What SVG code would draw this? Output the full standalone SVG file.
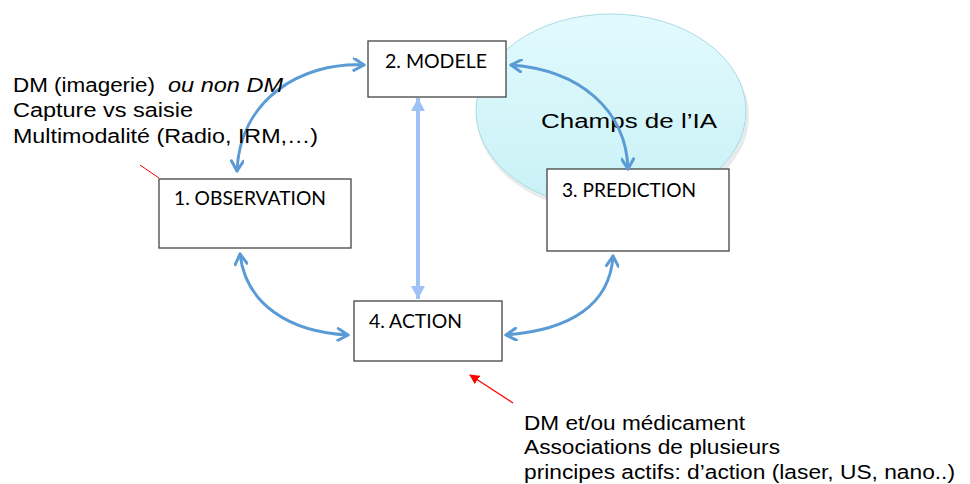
<svg xmlns="http://www.w3.org/2000/svg" width="970" height="484" viewBox="0 0 970 484">
<defs>
<style>
.box{fill:#fff;stroke:#444;stroke-width:1.3}
.lbl{font-family:Lato,"Liberation Sans",sans-serif;font-size:20px;fill:#000}
.note{font-family:"Liberation Sans",Arial,sans-serif;font-size:20px;fill:#000}
.conn{fill:none;stroke:#5b9bd5;stroke-width:3;stroke-linecap:round}
</style>
<linearGradient id="ia" x1="0" y1="0" x2="0" y2="1">
<stop offset="0" stop-color="#e2fafd"/>
<stop offset="1" stop-color="#c8f1f6"/>
</linearGradient>
<marker id="open" viewBox="0 0 14 14" refX="12" refY="7" markerWidth="14" markerHeight="14" markerUnits="userSpaceOnUse" orient="auto-start-reverse">
<path d="M2,1 L12,7 L2,13" fill="none" stroke="#5b9bd5" stroke-width="3" stroke-linecap="round" stroke-linejoin="round"/>
</marker>
<marker id="fill" viewBox="0 0 14 14" refX="13" refY="7" markerWidth="14" markerHeight="14" markerUnits="userSpaceOnUse" orient="auto-start-reverse">
<path d="M0,0 L13,7 L0,14 Z" fill="#9ec1f7"/>
</marker>
<marker id="red" viewBox="0 0 10 10" refX="9" refY="5" markerWidth="10" markerHeight="10" markerUnits="userSpaceOnUse" orient="auto">
<path d="M0,0 L10,5 L0,10 Z" fill="#ff0000"/>
</marker>
</defs>
<rect width="970" height="484" fill="#fff"/>

<g id="ia-field">
<ellipse cx="612" cy="113" rx="136" ry="97" fill="#d0d8da" opacity="0.5" transform="translate(1,3)"/>
<ellipse cx="611" cy="111" rx="135" ry="97" fill="url(#ia)" stroke="#a9dbe3" stroke-width="1"/>
<text class="note" x="541" y="128" font-size="24" textLength="176" lengthAdjust="spacingAndGlyphs">Champs de l’IA</text>
</g>

<g id="node-modele">
<rect class="box" x="368" y="41" width="138" height="56"/>
<text class="lbl" x="385" y="68" textLength="102" lengthAdjust="spacingAndGlyphs">2. MODELE</text>
</g>
<g id="node-observation">
<rect class="box" x="159" y="179" width="192" height="69"/>
<text class="lbl" x="174" y="205" textLength="152" lengthAdjust="spacingAndGlyphs">1. OBSERVATION</text>
</g>
<g id="node-prediction">
<rect class="box" x="547" y="169" width="182" height="82"/>
<text class="lbl" x="562" y="197" textLength="134" lengthAdjust="spacingAndGlyphs">3. PREDICTION</text>
</g>
<g id="node-action">
<rect class="box" x="354" y="301" width="148" height="60"/>
<text class="lbl" x="369" y="328" textLength="93" lengthAdjust="spacingAndGlyphs">4. ACTION</text>
</g>

<g id="connectors">
<path class="conn" d="M364,65 C300,62 240,100 237,171" marker-start="url(#open)" marker-end="url(#open)"/>
<path class="conn" d="M511,65 C580,70 626,110 628,169" marker-start="url(#open)" marker-end="url(#open)"/>
<path class="conn" d="M240,254 C246,305 290,332 348,335" marker-start="url(#open)" marker-end="url(#open)"/>
<path class="conn" d="M613,256 C610,305 570,330 506,335" marker-start="url(#open)" marker-end="url(#open)"/>
<path d="M418,98 L418,299" stroke="#9ec1f7" stroke-width="4" fill="none" marker-start="url(#fill)" marker-end="url(#fill)"/>
<path d="M140,165 L159,178" stroke="#ff0000" stroke-width="1" fill="none"/>
<path d="M513,403 L470,375" stroke="#ff0000" stroke-width="1.3" fill="none" marker-end="url(#red)"/>
</g>

<g id="note-observation">
<text class="note" x="13" y="92"><tspan textLength="142" lengthAdjust="spacingAndGlyphs">DM (imagerie)</tspan><tspan x="168" font-style="italic" textLength="115" lengthAdjust="spacingAndGlyphs">ou non DM</tspan></text>
<text class="note" x="13" y="117" textLength="180" lengthAdjust="spacingAndGlyphs">Capture vs saisie</text>
<text class="note" x="13" y="143" textLength="305" lengthAdjust="spacingAndGlyphs">Multimodalité  (Radio, IRM,…)</text>
</g>
<g id="note-action">
<text class="note" x="524" y="430" textLength="221" lengthAdjust="spacingAndGlyphs">DM et/ou médicament</text>
<text class="note" x="524" y="454" textLength="256" lengthAdjust="spacingAndGlyphs">Associations de plusieurs</text>
<text class="note" x="524" y="479" textLength="431" lengthAdjust="spacingAndGlyphs">principes actifs: d’action (laser, US, nano..)</text>
</g>
</svg>
